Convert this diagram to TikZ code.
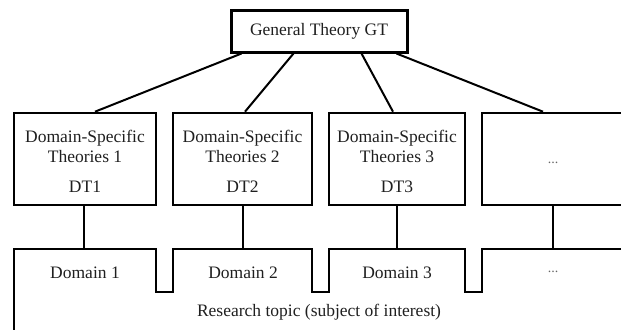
\documentclass[tikz,border=0pt]{standalone}
\usepackage{fontspec}
\setmainfont{Liberation Serif}
\begin{document}
\begin{tikzpicture}[x=1bp,y=-1bp,
  box/.style={draw=black,line width=2.6bp,minimum height=92bp,inner sep=0pt},
  topbox/.style={draw=black,line width=3bp,minimum width=176bp,minimum height=42bp,inner sep=0pt},
  txt/.style={inner sep=0pt,align=center,font=\fontsize{17.5bp}{20bp}\selectfont,text=black!88},
  link/.style={draw=black,line width=2bp},
  stem/.style={draw=black,line width=2.6bp},
  outline/.style={draw=black,line width=2.6bp,line join=miter}]
\useasboundingbox (0,0) rectangle (621,329);
% top node
\node[topbox] (gt) at (319,31) {};
\node[txt] (gtt) at (319,31) {General Theory GT};
% domain-specific theory boxes
\node[box,minimum width=142bp] (dt1) at (85,159) {};
\node[box,minimum width=139bp] (dt2) at (242.5,159) {};
\node[box,minimum width=136bp] (dt3) at (397,159) {};
\node[box,minimum width=142bp] (dt4) at (553,159) {};
\node[txt] (dt1t) at (85,161) {Domain-Specific\\Theories 1\\[10bp]DT1};
\node[txt] (dt2t) at (242.5,161) {Domain-Specific\\Theories 2\\[10bp]DT2};
\node[txt] (dt3t) at (397,161) {Domain-Specific\\Theories 3\\[10bp]DT3};
\node[txt,font=\fontsize{14bp}{16bp}\selectfont,text=black!60] (dt4t) at (553,163) {...};
% connectors from GT
\draw[link] ([xshift=12bp]gt.south west) -- ([xshift=10bp]dt1.north);
\draw[link] ([xshift=64bp]gt.south west) -- ([xshift=2.5bp]dt2.north);
\draw[link] ([xshift=132bp]gt.south west) -- ([xshift=-4bp]dt3.north);
\draw[link] ([xshift=167bp]gt.south west) -- ([xshift=-10bp]dt4.north);
% domain outline
\draw[outline] (14,335) -- (14,249) -- (156,249) -- (156,292) -- (173,292) -- (173,249)
  -- (312,249) -- (312,292) -- (329,292) -- (329,249)
  -- (465,249) -- (465,292) -- (482,292) -- (482,249) -- (630,249);
% stems
\coordinate (d1) at (84,249);
\coordinate (d2) at (243,249);
\coordinate (d3) at (397,249);
\coordinate (d4) at (553,249);
\draw[stem] (dt1.south -| d1) -- (d1);
\draw[stem] (dt2.south -| d2) -- (d2);
\draw[stem] (dt3.south -| d3) -- (d3);
\draw[stem] (dt4.south -| d4) -- (d4);
% domain labels
\node[txt] (l1) at (85,273) {Domain 1};
\node[txt] (l2) at (243,273) {Domain 2};
\node[txt] (l3) at (397,273) {Domain 3};
\node[txt,font=\fontsize{14bp}{16bp}\selectfont,text=black!60] (l4) at (553,272) {...};
\node[txt] (rt) at (319,312) {Research topic (subject of interest)};
\end{tikzpicture}
\end{document}
